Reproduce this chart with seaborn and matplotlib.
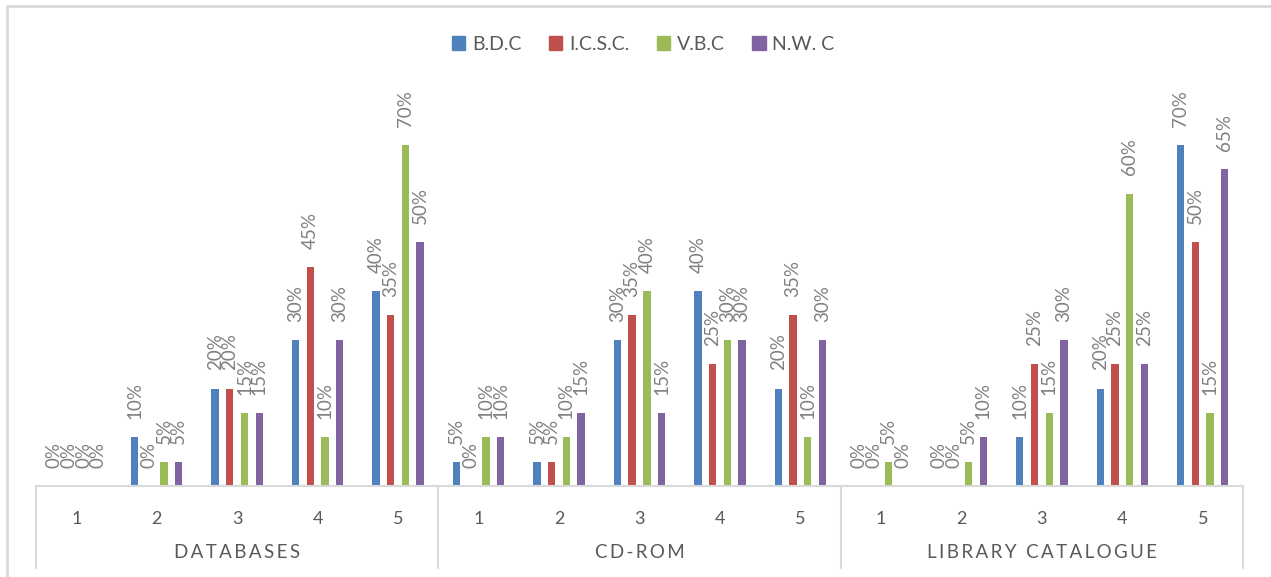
import matplotlib
matplotlib.use("Agg")
import matplotlib.pyplot as plt
from matplotlib.lines import Line2D
from matplotlib.patches import Rectangle
import seaborn as sns
import pandas as pd

# Survey responses (% of respondents) per resource, rating level and institution
groups = ["DATABASES", "CD-ROM", "LIBRARY CATALOGUE"]
levels = ["1", "2", "3", "4", "5"]
series = ["B.D.C", "I.C.S.C.", "V.B.C", "N.W. C"]

bdc = [0, 10, 20, 30, 40,   5, 5, 30, 40, 20,   0, 0, 10, 20, 70]
icsc = [0, 0, 20, 45, 35,   0, 5, 35, 25, 35,   0, 0, 25, 25, 50]
vbc = [0, 5, 15, 10, 70,    10, 10, 40, 30, 10,  5, 5, 15, 60, 15]
nwc = [0, 5, 15, 30, 50,    10, 15, 15, 30, 30,  0, 10, 30, 25, 65]

colors = ["#4F81BD", "#C0504D", "#9BBB59", "#8064A2"]

keys = [f"{g}|{l}" for g in groups for l in levels]
rows = []
for name, vals in zip(series, [bdc, icsc, vbc, nwc]):
    for k, v in zip(keys, vals):
        rows.append({"slot": k, "series": name, "value": v})
df = pd.DataFrame(rows)

sns.set_theme(style="white")
plt.rcParams["font.family"] = ["Lato", "DejaVu Sans"]

W, H = 1271, 577
fig = plt.figure(figsize=(W / 100, H / 100), dpi=100)
ax_l, ax_r, ax_b, ax_t = 36, 1243, 486, 96
ax = fig.add_axes([ax_l / W, (H - ax_b) / H, (ax_r - ax_l) / W, (ax_b - ax_t) / H])

sns.barplot(data=df, x="slot", y="value", hue="series", order=keys,
            hue_order=series, palette=colors, width=0.73, gap=0.5,
            saturation=1, ax=ax, legend=False, edgecolor="none")

ax.set_ylim(0, 80)
ax.set_xlim(-0.5, len(keys) - 0.5)
ax.set_xlabel("")
ax.set_ylabel("")
ax.set_yticks([])
ax.set_xticks(range(len(keys)))
ax.set_xticklabels([k.split("|")[1] for k in keys], fontsize=13, color="#595959")
ax.tick_params(axis="x", length=0, pad=18)
for s in ["top", "right", "left"]:
    ax.spines[s].set_visible(False)
ax.spines["bottom"].set_color("#d9d9d9")
ax.spines["bottom"].set_linewidth(1.5)

# value labels above each bar
for cont, vals in zip(ax.containers, [bdc, icsc, vbc, nwc]):
    for bar, v in zip(cont, vals):
        ax.annotate(f"{v}%", (bar.get_x() + bar.get_width() / 2, v),
                    xytext=(0, 13), textcoords="offset points",
                    rotation=90, ha="center", va="bottom",
                    fontsize=13.5, color="#808080")

# group separators and group names below the axis
trans = ax.get_xaxis_transform()
sep_bottom = -(568 - ax_b) / (ax_b - ax_t)
for i in range(len(groups) + 1):
    x = i * len(levels) - 0.5
    ax.add_line(Line2D([x, x], [0, sep_bottom], transform=trans,
                       color="#d9d9d9", lw=1.5, clip_on=False))
group_y = -(553 - ax_b) / (ax_b - ax_t)
for i, g in enumerate(groups):
    xc = i * len(levels) + (len(levels) - 1) / 2
    spaced = "\u2009".join(list(g)).replace("\u2009 \u2009", "  ")
    ax.text(xc, group_y, spaced, transform=trans, ha="center", va="center",
            fontsize=13.5, color="#595959")

# legend
handles = [Rectangle((0, 0), 1, 1, color=c) for c in colors]
fig.legend(handles, series, loc="center", bbox_to_anchor=(0.506, 1 - 44 / H),
           ncol=4, frameon=False, fontsize=14, handlelength=0.7,
           handleheight=0.7, handletextpad=0.35, columnspacing=1.4,
           labelcolor="#595959")

# chart-area border
fig.add_artist(Rectangle((6.5 / W, -0.1), 1.2, 1.1 - 6.5 / H,
                         transform=fig.transFigure, fill=False,
                         edgecolor="#d9d9d9", lw=2))

fig.savefig("out.png", dpi=100, facecolor="white")
